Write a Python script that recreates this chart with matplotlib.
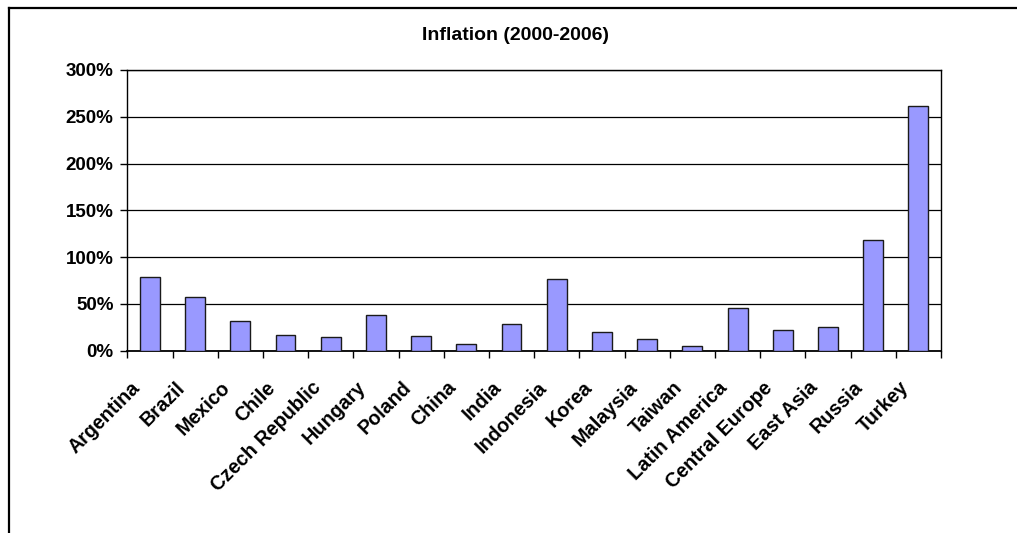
import matplotlib
matplotlib.use("Agg")
import matplotlib.pyplot as plt
import matplotlib.transforms as mtransforms
from matplotlib.lines import Line2D
from matplotlib.ticker import FixedLocator, PercentFormatter

categories = ["Argentina", "Brazil", "Mexico", "Chile", "Czech Republic", "Hungary",
              "Poland", "China", "India", "Indonesia", "Korea", "Malaysia", "Taiwan",
              "Latin America", "Central Europe", "East Asia", "Russia", "Turkey"]
inflation = [78.4, 57.4, 31.7, 17.1, 14.3, 38.2, 15.7, 7.5, 28.5, 76.6,
             20.3, 12.8, 4.7, 46.0, 22.1, 25.3, 118.3, 261.2]
y_ticks = [0, 50, 100, 150, 200, 250, 300]
title = "Inflation (2000-2006)"

plt.rcParams["font.family"] = ["Liberation Sans", "DejaVu Sans"]
plt.rcParams["font.weight"] = "bold"

W, H, DPI = 1017, 533, 100
fig = plt.figure(figsize=(W / DPI, H / DPI), dpi=DPI)
fig.patch.set_facecolor("white")

left, right, top, bottom = 127.3, 941.0, 70.0, 350.7
ax = fig.add_axes([left / W, 1 - bottom / H, (right - left) / W, (bottom - top) / H])

n = len(categories)
x = list(range(n))
ax.bar(x, inflation, width=0.44, color="#9999FF", edgecolor="#1a1a1a", linewidth=1.0, zorder=3)

ax.set_xlim(-0.5, n - 0.5)
ax.set_ylim(0, 300)

# horizontal gridlines
ax.yaxis.set_major_locator(FixedLocator(y_ticks))
ax.yaxis.set_major_formatter(PercentFormatter(decimals=0))
ax.grid(axis="y", color="#000000", linewidth=0.9, zorder=1)
ax.set_axisbelow(True)

# category boundary ticks (major) and centered labels (minor)
ax.xaxis.set_major_locator(FixedLocator([i - 0.5 for i in range(n + 1)]))
ax.xaxis.set_major_formatter(plt.NullFormatter())
ax.xaxis.set_minor_locator(FixedLocator(x))
ax.set_xticklabels(categories, minor=True)
ax.tick_params(axis="x", which="major", direction="out", length=5, width=1, color="#000000")
ax.tick_params(axis="x", which="minor", length=0, pad=0)
ax.tick_params(axis="y", direction="out", length=5, width=1, color="#000000", pad=4.8,
               labelsize=13.5)

offset = mtransforms.ScaledTranslation(-14.2 / 72, -19.6 / 72, fig.dpi_scale_trans)
for lbl in ax.get_xticklabels(minor=True):
    lbl.set_rotation(45)
    lbl.set_ha("right")
    lbl.set_va("top")
    lbl.set_rotation_mode("anchor")
    lbl.set_fontsize(14.2)
    lbl.set_fontweight("bold")
    lbl.set_transform(lbl.get_transform() + offset)

for lbl in ax.get_yticklabels():
    lbl.set_fontweight("bold")

for side in ["left", "right", "top", "bottom"]:
    ax.spines[side].set_color("#000000")
    ax.spines[side].set_linewidth(1.0)
ax.spines["bottom"].set_linewidth(1.3)

fig.text(515 / W, 1 - 35 / H, title, ha="center", va="center", fontsize=14, fontweight="bold")

# chart area frame (left and top edges)
fig.add_artist(Line2D([8.5 / W, 8.5 / W], [0, 1 - 7.5 / H], color="#000000", linewidth=1.6,
                      transform=fig.transFigure))
fig.add_artist(Line2D([8.5 / W, 1], [1 - 7.5 / H, 1 - 7.5 / H], color="#000000", linewidth=1.6,
                      transform=fig.transFigure))

fig.savefig("out.png", dpi=DPI)
